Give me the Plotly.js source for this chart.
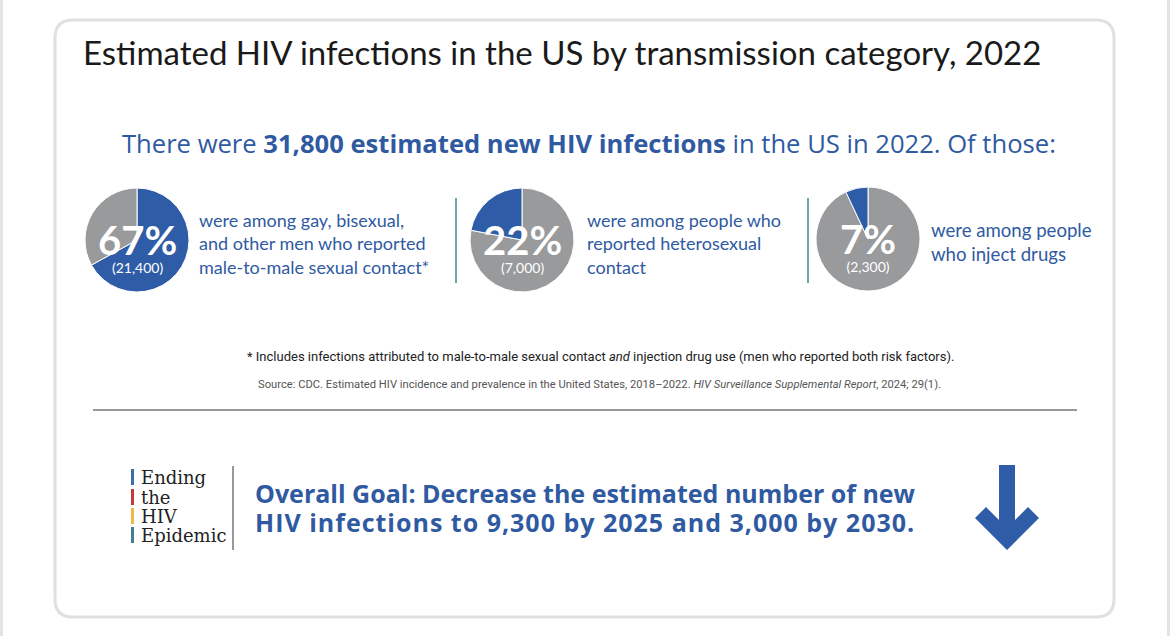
<!DOCTYPE html>
<html>
<head>
<meta charset="utf-8">
<script src="https://cdn.plot.ly/plotly-3.0.1.min.js"></script>
<style>
  html, body { margin: 0; padding: 0; background: #ffffff; }
  #chart { width: 1170px; height: 636px; }
</style>
</head>
<body>
<div id="chart"></div>
<script>
// Transmission categories, share of new infections (%) and estimated counts
const categories = ["Male-to-male sexual contact", "Heterosexual contact", "Injection drug use"];
const shares = [67, 22, 7];
const counts = [21400, 7000, 2300];
const descriptions = [
  "were among gay, bisexual,<br>and other men who reported<br>male-to-male sexual contact*",
  "were among people who<br>reported heterosexual<br>contact",
  "were among people<br>who inject drugs"
];
const totalInfections = 31800;
const goals = { year2025: 9300, year2030: 3000 };

const W = 1170, H = 636;
const BLUE = "#2f5ca6";
const GREY = "#999a9c";
const TEXT_BLUE = "#2f5aa2";
const FONT = "Lato, 'Open Sans', sans-serif";
const WIDE = "'Open Sans', Lato, sans-serif";
const SMALL = "Roboto, 'Open Sans', sans-serif";

const fmt = n => n.toLocaleString("en-US");

// Pie geometry in pixels (centre x, centre y, radius), label column x.
// blueFirst: highlighted slice runs clockwise from 12 o'clock; otherwise it ends there.
const pies = [
  { cx: 137, cy: 240, r: 52, blueFirst: true,  tx: 197, descSize: 18 },
  { cx: 522, cy: 240, r: 52, blueFirst: false, tx: 585, descSize: 18 },
  { cx: 868, cy: 239, r: 52, blueFirst: false, tx: 929, descSize: 18.6 }
];

const traces = pies.map((p, i) => {
  const vals = p.blueFirst ? [shares[i], 100 - shares[i]] : [100 - shares[i], shares[i]];
  const labs = p.blueFirst ? [categories[i], "Other"] : ["Other", categories[i]];
  const cols = p.blueFirst ? [BLUE, GREY] : [GREY, BLUE];
  return {
    type: "pie",
    values: vals,
    labels: labs,
    sort: false,
    direction: "clockwise",
    rotation: 0,
    textinfo: "none",
    hoverinfo: "skip",
    showlegend: false,
    marker: { colors: cols, line: { color: "#ffffff", width: 1 } },
    domain: {
      x: [(p.cx - p.r) / W, (p.cx + p.r) / W],
      y: [1 - (p.cy + p.r) / H, 1 - (p.cy - p.r) / H]
    }
  };
});

const annotations = [];
const add = (o) => annotations.push(Object.assign({ xref: "x", yref: "y", showarrow: false }, o));

// Heading
add({ x: 81, y: 52, xanchor: "left", yanchor: "middle",
      text: "Estimated HIV infections in the US by transmission category, 2022",
      font: { family: FONT, size: 33, color: "#1a1a1a" } });

// Summary line
add({ x: 589, y: 143, xanchor: "center", yanchor: "middle",
      text: "There were <b>" + fmt(totalInfections) + " estimated new HIV infections</b> in the US in 2022. Of those:",
      font: { family: WIDE, size: 25.6, color: TEXT_BLUE } });

// Pie labels (percentage over count) and descriptions
pies.forEach((p, i) => {
  add({ x: p.cx, y: p.cy + 6, xanchor: "center", yanchor: "middle", align: "center",
        text: "<span style='font-size:40px'><b>" + shares[i] + "%</b></span><br>(" + fmt(counts[i]) + ")",
        font: { family: FONT, size: 14, color: "#ffffff" } });
  add({ x: p.tx, y: p.cy + 3, xanchor: "left", yanchor: "middle", align: "left",
        text: descriptions[i],
        font: { family: FONT, size: p.descSize, color: TEXT_BLUE } });
});

// Footnote and source
add({ x: 600, y: 356, xanchor: "center", yanchor: "middle",
      text: "* Includes infections attributed to male-to-male sexual contact <i>and</i> injection drug use (men who reported both risk factors).",
      font: { family: SMALL, size: 13, color: "#222222" } });
add({ x: 599, y: 384, xanchor: "center", yanchor: "middle",
      text: "Source: CDC. Estimated HIV incidence and prevalence in the United States, 2018–2022. <i>HIV Surveillance Supplemental Report</i>, 2024; 29(1).",
      font: { family: SMALL, size: 11.2, color: "#555555" } });

// Ending the HIV Epidemic wordmark
const logoWords = ["Ending", "the", "HIV", "Epidemic"];
const logoY = [477, 497, 516, 535];
logoWords.forEach((w, i) => {
  add({ x: 139, y: logoY[i], xanchor: "left", yanchor: "middle",
        text: w, font: { family: "'DejaVu Serif', 'Liberation Serif', serif", size: 18, color: "#222222" } });
});

// Goal statement
const goalLines = [
  "<b>Overall Goal:</b> <b>Decrease the estimated number of new</b>",
  "<span style='letter-spacing:1px'><b>HIV infections to " + fmt(goals.year2025) + " by 2025 and " + fmt(goals.year2030) + " by 2030.</b></span>"
];
const goalY = [493, 522];
goalLines.forEach((t, i) => {
  add({ x: 253, y: goalY[i], xanchor: "left", yanchor: "middle", align: "left",
        text: t, font: { family: WIDE, size: 25, color: TEXT_BLUE } });
});

// Rounded card outline
const x0 = 55, y0 = 20, x1 = 1114, y1 = 617, rr = 18;
const cardPath = `M ${x0 + rr} ${y0} L ${x1 - rr} ${y0} Q ${x1} ${y0} ${x1} ${y0 + rr} ` +
                 `L ${x1} ${y1 - rr} Q ${x1} ${y1} ${x1 - rr} ${y1} ` +
                 `L ${x0 + rr} ${y1} Q ${x0} ${y1} ${x0} ${y1 - rr} ` +
                 `L ${x0} ${y0 + rr} Q ${x0} ${y0} ${x0 + rr} ${y0} Z`;

const logoBars = ["#3b6fa6", "#c23a3c", "#f1b84a", "#3f7f8f"];

const shapes = [
  { type: "rect", xref: "x", yref: "y", x0: 0, x1: 3, y0: 0, y1: H, fillcolor: "#e4e4e4", line: { width: 0 }, layer: "below" },
  { type: "rect", xref: "x", yref: "y", x0: 1167, x1: 1170, y0: 0, y1: H, fillcolor: "#e4e4e4", line: { width: 0 }, layer: "below" },
  { type: "path", xref: "x", yref: "y", path: cardPath, fillcolor: "#ffffff", line: { color: "#e0e0e0", width: 3 }, layer: "below" },
  // dividers between the three pies
  { type: "line", xref: "x", yref: "y", x0: 456, x1: 456, y0: 198, y1: 283, line: { color: "#4a8795", width: 1.5 } },
  { type: "line", xref: "x", yref: "y", x0: 808, x1: 808, y0: 198, y1: 283, line: { color: "#4a8795", width: 1.5 } },
  // rule above the goal section
  { type: "line", xref: "x", yref: "y", x0: 93, x1: 1077, y0: 410, y1: 410, line: { color: "#333333", width: 1.2 } },
  // wordmark separator
  { type: "line", xref: "x", yref: "y", x0: 233, x1: 233, y0: 466, y1: 550, line: { color: "#555555", width: 1.2 } },
  // downward arrow
  { type: "path", xref: "x", yref: "y",
    path: "M 999 465 L 1015 465 L 1015 520 L 1028 507 L 1039 518 L 1007 550 L 975 518 L 986 507 L 999 520 Z",
    fillcolor: BLUE, line: { width: 0 } }
];
logoBars.forEach((c, i) => {
  shapes.push({ type: "rect", xref: "x", yref: "y", x0: 131, x1: 134,
                y0: logoY[i] - 8, y1: logoY[i] + 8, fillcolor: c, line: { width: 0 } });
});

const layout = {
  width: W, height: H,
  margin: { l: 0, r: 0, t: 0, b: 0 },
  paper_bgcolor: "#ffffff",
  plot_bgcolor: "rgba(0,0,0,0)",
  xaxis: { range: [0, W], visible: false, fixedrange: true },
  yaxis: { range: [H, 0], visible: false, fixedrange: true },
  shapes: shapes,
  annotations: annotations,
  showlegend: false
};

Plotly.newPlot("chart", traces, layout, { staticPlot: true, displayModeBar: false });
</script>
</body>
</html>
